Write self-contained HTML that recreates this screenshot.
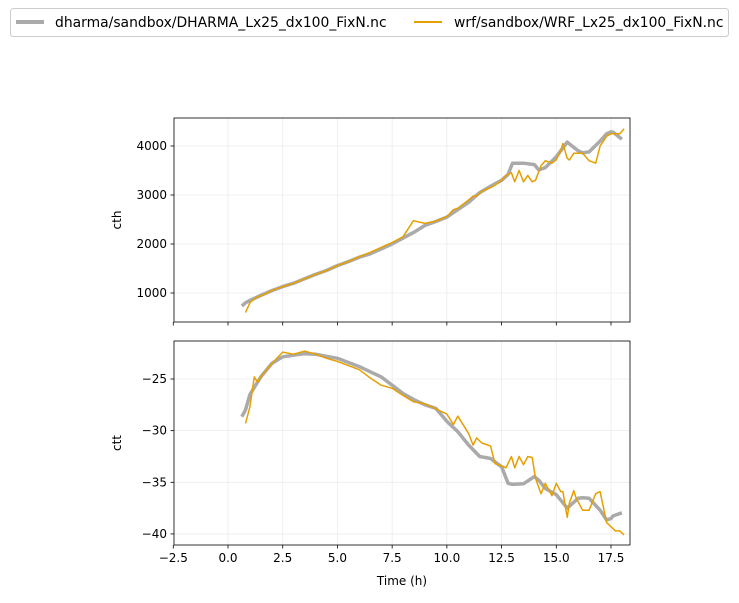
<!DOCTYPE html>
<html><head><meta charset="utf-8"><style>
body{margin:0;background:#fff;font-family:"Liberation Sans","DejaVu Sans",sans-serif;}
svg text{font-family:"DejaVu Sans","Liberation Sans",sans-serif;font-size:12px;fill:#000}
svg text.lg{font-size:13.9px}
</style></head><body>
<svg id="c" width="739" height="598">
<g>
<rect x="10.5" y="8.5" width="718" height="28" rx="3" fill="#fff" stroke="#ccc"/>
<line x1="16" y1="22" x2="44" y2="22" stroke="#aaa" stroke-width="4"/>
<text class="lg" x="55" y="27">dharma/sandbox/DHARMA_Lx25_dx100_FixN.nc</text>
<line x1="414" y1="22" x2="442" y2="22" stroke="#e69f00" stroke-width="2"/>
<text class="lg" x="454" y="27">wrf/sandbox/WRF_Lx25_dx100_FixN.nc</text>
</g>
</svg>
<script>
const dTime=[0.63,0.8,1,1.5,2,2.5,3,3.5,4,4.5,5,5.5,6,6.5,7,7.5,8,8.5,9,9.5,10,10.5,11,11.5,12,12.5,12.8,13,13.5,14,14.2,14.5,15,15.5,16,16.2,16.5,17,17.3,17.5,17.6,18];
const dCth=[735,800,850,950,1050,1130,1200,1290,1380,1460,1560,1640,1730,1800,1900,2000,2120,2240,2380,2460,2550,2700,2850,3050,3180,3300,3420,3650,3650,3620,3510,3560,3780,4080,3900,3860,3880,4100,4250,4290,4280,4137];
const dCtt=[-28.65,-28.0,-26.5,-24.8,-23.5,-22.85,-22.7,-22.55,-22.6,-22.8,-23.0,-23.4,-23.8,-24.3,-24.8,-25.6,-26.4,-27.0,-27.5,-27.85,-29.1,-30.1,-31.4,-32.5,-32.7,-33.5,-35.1,-35.2,-35.15,-34.45,-34.8,-35.6,-36.2,-37.5,-36.55,-36.5,-36.55,-37.7,-38.65,-38.5,-38.25,-37.95];
const wTime=[0.8,1,1.2,1.35,1.6,2,2.5,3,3.5,4,4.5,5,5.5,6,6.5,7,7.5,8,8.47,9,9.5,10,10.3,10.5,11,11.2,11.36,11.6,12,12.2,12.5,12.7,12.95,13.1,13.3,13.5,13.7,13.9,14.05,14.3,14.5,14.8,15,15.2,15.3,15.5,15.6,15.8,15.9,16.2,16.5,16.8,17,17.3,17.5,17.7,17.9,18.1];
const wCth=[600,800,880,920,960,1050,1130,1200,1290,1380,1460,1560,1640,1740,1830,1930,2030,2150,2475,2420,2470,2560,2700,2730,2900,2980,2980,3080,3150,3200,3300,3400,3455,3270,3500,3270,3400,3270,3300,3600,3700,3650,3720,3900,4050,3750,3714,3850,3850,3850,3700,3650,4000,4200,4250,4250,4250,4350];
const wCtt=[-29.3,-27.7,-24.8,-25.3,-24.5,-23.5,-22.4,-22.6,-22.3,-22.6,-23.0,-23.3,-23.7,-24.1,-24.9,-25.6,-25.9,-26.6,-27.2,-27.4,-27.9,-28.4,-29.4,-28.6,-30.3,-31.4,-30.7,-31.2,-31.5,-33.2,-33.4,-33.6,-32.5,-33.6,-32.5,-33.3,-32.5,-32.6,-34.6,-36.1,-35.1,-36.3,-35.1,-35.9,-35.9,-38.4,-37.0,-35.8,-36.5,-37.7,-37.7,-36.1,-35.9,-38.9,-39.3,-39.7,-39.7,-40.1];
const xTicks=[-2.5,0,2.5,5,7.5,10,12.5,15,17.5];
const xTickLabels=["−2.5","0.0","2.5","5.0","7.5","10.0","12.5","15.0","17.5"];
const cthTicks=[1000,2000,3000,4000];
const cttTicks=[-25,-30,-35,-40];
const cttTickLabels=["−25","−30","−35","−40"];

const NS="http://www.w3.org/2000/svg";
const svg=document.getElementById('c');
const L=174,R=630;
const X=t=>228+(t-0)*21.886;
function mk(tag,attrs,parent){const e=document.createElementNS(NS,tag);for(const k in attrs)e.setAttribute(k,attrs[k]);(parent||svg).appendChild(e);return e;}
function panel(name,top,bot,Y,yt,ytl,ylabel,series,showXLabels){
  const g=mk('g',{});
  
  
  xTicks.forEach((t,i)=>{const x=X(t);
    if(t>-2.5){const gl=mk('line',{x1:x,x2:x,y1:top,y2:bot,stroke:'#ebebeb','stroke-width':0.8},g);
    }
    const tk=mk('line',{x1:x,x2:x,y1:bot,y2:bot+3.5,stroke:'#000','stroke-width':0.8},g);
    
    if(showXLabels){const tx=mk('text',{x:x,y:bot+17,'text-anchor':'middle'},g);tx.textContent=xTickLabels[i];
    }
  });
  yt.forEach((v,i)=>{const y=Y(v);
    const gl=mk('line',{x1:L,x2:R,y1:y,y2:y,stroke:'#ebebeb','stroke-width':0.8},g);
    
    const tk=mk('line',{x1:L-3.5,x2:L,y1:y,y2:y,stroke:'#000','stroke-width':0.8},g);
    
    const tx=mk('text',{x:L-7,y:y+4,'text-anchor':'end'},g);tx.textContent=ytl[i];
    
  });
  series.forEach(s=>{
    const d=s.t.map((t,i)=>(i?'L':'M')+X(t).toFixed(1)+','+Y(s.v[i]).toFixed(1)).join('');
    const p=mk('path',{d:d,fill:'none',stroke:s.c,'stroke-width':s.w,'stroke-linejoin':'round'},g);
    
  });
  const fr=mk('rect',{x:L,y:top,width:R-L,height:bot-top,fill:'none',stroke:'#000','stroke-width':0.8},g);
  
  const yl=mk('text',{x:0,y:0,'text-anchor':'middle',transform:`translate(121,${(top+bot)/2}) rotate(-90)`},g);
  yl.textContent=ylabel;
  
}
const Yc=v=>293-(v-1000)*0.049;
const Yt=v=>379-(v+25)*10.33;
panel('cth-panel',118,322,Yc,cthTicks,cthTicks.map(String),'cth',[
 {t:dTime,v:dCth,c:'#aaaaaa',w:3.5,n:'dharma-cth-line'},{t:wTime,v:wCth,c:'#e69f00',w:1.5,n:'wrf-cth-line'}],false);
panel('ctt-panel',341,545,Yt,cttTicks,cttTickLabels,'ctt',[
 {t:dTime,v:dCtt,c:'#aaaaaa',w:3.5,n:'dharma-ctt-line'},{t:wTime,v:wCtt,c:'#e69f00',w:1.5,n:'wrf-ctt-line'}],true);
const xl=mk('text',{x:402,y:585,'text-anchor':'middle'});xl.textContent='Time (h)';


</script>
</body></html>
